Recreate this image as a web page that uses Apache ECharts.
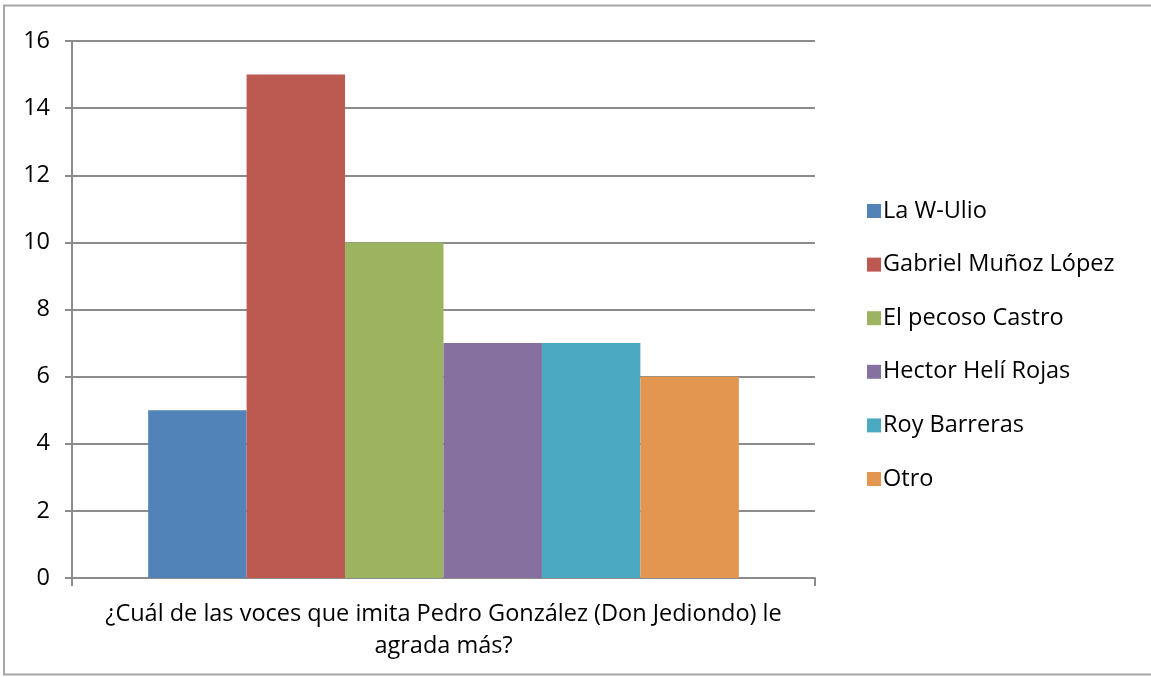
<!DOCTYPE html>
<html><head><meta charset="utf-8">
<script src="https://cdn.jsdelivr.net/npm/echarts@6/dist/echarts.min.js"></script>
<style>html,body{margin:0;padding:0;background:#fff}#c{width:1151px;height:677px}</style>
</head><body><div id="c"></div>
<script>
const categories = ["¿Cuál de las voces que imita Pedro González (Don Jediondo) le\nagrada más?"];
const seriesNames = ["La W-Ulio", "Gabriel Muñoz López", "El pecoso Castro", "Hector Helí Rojas", "Roy Barreras", "Otro"];
const seriesValues = [5, 15, 10, 7, 7, 6];
const colors = ["#5283B8", "#BC5A52", "#9CB35F", "#8670A0", "#4BAAC1", "#E39650"];
const yTicks = [0, 2, 4, 6, 8, 10, 12, 14, 16];

const font = "'Open Sans', sans-serif";
const fs = 23.5;
const chart = echarts.init(document.getElementById('c'), null, {renderer: 'canvas'});
chart.setOption({
  animation: false,
  backgroundColor: '#fff',
  color: colors,
  textStyle: {fontFamily: font},
  graphic: [{type: 'rect', shape: {x: 4, y: 5.5, width: 1160, height: 669}, style: {fill: null, stroke: '#a6a6a6', lineWidth: 2}}],
  grid: {left: 72, right: 336, top: 41, bottom: 99, containLabel: false},
  legend: {
    orient: 'vertical', left: 862, top: 194, itemWidth: 14, itemHeight: 14, itemGap: 29.6,
    icon: 'rect', textStyle: {fontSize: fs, color: '#000', fontFamily: font, lineHeight: 24, padding: [0, 0, 0, -3]},
    data: seriesNames
  },
  xAxis: {
    type: 'category', data: categories,
    axisLine: {lineStyle: {color: '#8c8c8c', width: 2}},
    axisTick: {show: true, length: 8, lineStyle: {color: '#8c8c8c', width: 2}},
    axisLabel: {fontSize: fs, color: '#000', lineHeight: 32, margin: 20, fontFamily: font}
  },
  yAxis: {
    type: 'value', min: yTicks[0], max: yTicks[yTicks.length - 1], interval: 2,
    axisLine: {show: true, lineStyle: {color: '#8c8c8c', width: 2}},
    axisTick: {show: true, length: 7, lineStyle: {color: '#8c8c8c', width: 2}},
    axisLabel: {fontSize: fs, color: '#000', margin: 22, fontFamily: font},
    splitLine: {lineStyle: {color: '#8c8c8c', width: 2}}
  },
  series: seriesNames.map((n, i) => ({
    name: n, type: 'bar', data: [seriesValues[i]],
    barGap: '0%', barCategoryGap: '20.5%', itemStyle: {color: colors[i]}
  }))
});
</script></body></html>
